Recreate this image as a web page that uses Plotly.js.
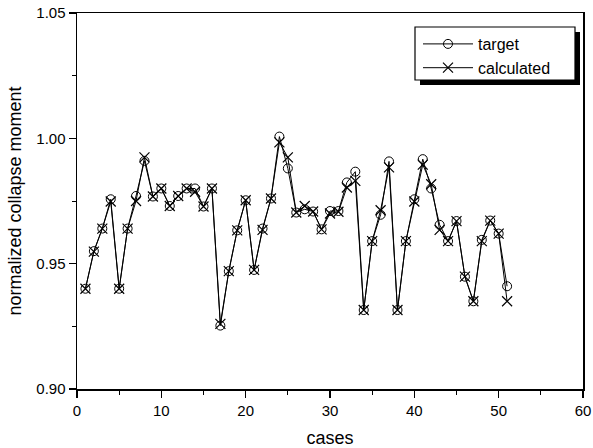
<!DOCTYPE html>
<html>
<head>
<meta charset="utf-8">
<script src="https://cdn.plot.ly/plotly-3.0.1.min.js"></script>
<style>body{margin:0;padding:0;background:#fff;}#chart{width:593px;height:448px;}</style>
</head>
<body>
<div id="chart"></div>
<script>
var cases = [1,2,3,4,5,6,7,8,9,10,11,12,13,14,15,16,17,18,19,20,21,22,23,24,25,26,27,28,29,30,31,32,33,34,35,36,37,38,39,40,41,42,43,44,45,46,47,48,49,50,51];
var target = [0.940,0.955,0.964,0.9757,0.940,0.964,0.977,0.991,0.9768,0.980,0.973,0.977,0.980,0.980,0.9728,0.980,0.9253,0.947,0.9633,0.9753,0.9475,0.964,0.976,1.0007,0.988,0.9704,0.9717,0.9708,0.9637,0.971,0.971,0.9824,0.9867,0.9315,0.959,0.9695,0.9908,0.9315,0.959,0.9757,0.9917,0.980,0.9655,0.959,0.967,0.9448,0.935,0.9595,0.9672,0.962,0.941];
var calculated = [0.940,0.9548,0.964,0.9748,0.940,0.964,0.975,0.9924,0.9768,0.980,0.973,0.977,0.980,0.9787,0.9728,0.980,0.926,0.947,0.9633,0.9753,0.9475,0.9635,0.976,0.9984,0.9924,0.9704,0.973,0.9708,0.9637,0.970,0.9707,0.9804,0.983,0.9315,0.959,0.9713,0.9884,0.9315,0.959,0.9748,0.9895,0.9817,0.9635,0.959,0.967,0.9448,0.935,0.959,0.9672,0.962,0.935];
var xTicks = [0,10,20,30,40,50,60];
var yTicks = [0.90,0.95,1.00,1.05];
var yTickText = ["0.90","0.95","1.00","1.05"];

var font = "Liberation Sans, Arial, sans-serif";
var traces = [
  {x: cases, y: target, name: "target", type: "scatter", mode: "lines+markers",
   line: {color: "#000", width: 1},
   marker: {symbol: "circle-open", size: 9, color: "#000", line: {width: 1, color: "#000"}}},
  {x: cases, y: calculated, name: "calculated", type: "scatter", mode: "lines+markers",
   line: {color: "#000", width: 1},
   marker: {symbol: "x-thin-open", size: 10, color: "#000", line: {width: 1.2, color: "#000"}}}
];
var L = 77, R = 583, T = 13, B = 389;
function px(x){return (x-L)/(R-L);}
function py(y){return (B-y)/(B-T);}
var layout = {
  width: 593, height: 448,
  margin: {l: L, r: 593-R, t: T, b: 448-B},
  paper_bgcolor: "#fff", plot_bgcolor: "#fff",
  font: {family: font, color: "#000", size: 15},
  showlegend: true,
  legend: {x: px(418), y: py(27), xanchor: "left", yanchor: "top",
    bgcolor: "rgba(0,0,0,0)", borderwidth: 0,
    font: {family: font, size: 16, color: "#000"}, itemwidth: 50, tracegroupgap: 0},
  xaxis: {range: [0, 60], tickvals: xTicks, ticktext: xTicks.map(String),
    showgrid: false, zeroline: false, showline: true, linecolor: "#000", linewidth: 1.5,
    mirror: true, ticks: "outside", ticklen: 7, tickwidth: 1.5, tickcolor: "#000",
    minor: {dtick: 5, ticks: "outside", ticklen: 4, tickwidth: 1, tickcolor: "#000", showgrid: false},
    tickfont: {family: font, size: 15},
    title: {text: "cases", font: {family: font, size: 18}, standoff: 16}},
  yaxis: {range: [0.90, 1.05], tickvals: yTicks, ticktext: yTickText,
    showgrid: false, zeroline: false, showline: true, linecolor: "#000", linewidth: 1.5,
    mirror: true, ticks: "outside", ticklen: 7, tickwidth: 1.5, tickcolor: "#000",
    minor: {dtick: 0.025, ticks: "outside", ticklen: 4, tickwidth: 1, tickcolor: "#000", showgrid: false},
    tickfont: {family: font, size: 15},
    title: {text: "normalized collapse moment", font: {family: font, size: 18}, standoff: 10}},
  shapes: [
    {type: "rect", xref: "paper", yref: "paper", layer: "above",
     x0: px(420), x1: px(580), y0: py(85), y1: py(32),
     fillcolor: "#000", line: {width: 0}},
    {type: "rect", xref: "paper", yref: "paper", layer: "above",
     x0: px(415), x1: px(575), y0: py(80), y1: py(27),
     fillcolor: "#fff", line: {width: 1.2, color: "#000"}}
  ]
};
Plotly.newPlot("chart", traces, layout, {displayModeBar: false, staticPlot: true});
</script>
</body>
</html>
